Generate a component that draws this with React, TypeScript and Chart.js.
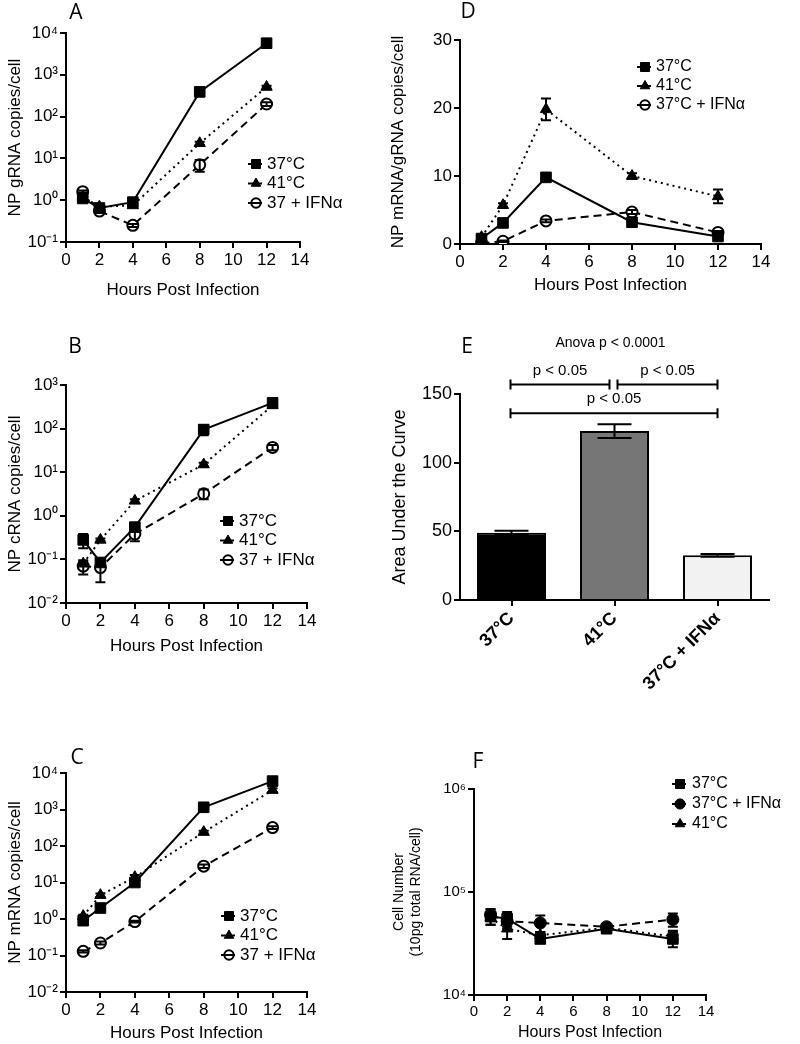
import React, { useEffect, useRef } from "react";
import { Chart, registerables } from "chart.js";
import { drawPoint } from "chart.js/helpers";

Chart.register(...registerables);

const FONT = "'Liberation Sans', Arial, Helvetica, sans-serif";
const LETTER_FONT = "'Open Sans', 'Liberation Sans', sans-serif";

// ---------- shared ----------
const HOURS = [1, 2, 4, 8, 12];
const X_TICKS = [0, 2, 4, 6, 8, 10, 12, 14];
const X_TITLE = "Hours Post Infection";
const LABELS_ABC = ["37°C", "41°C", "37 + IFNα"];
const LABELS_D = ["37°C", "41°C", "37°C + IFNα"];
const LABELS_F = ["37°C", "37°C + IFNα", "41°C"];

// ---------- Panel A: NP gRNA ----------
const A_37 = [1.1, 0.65, 0.9, 390, 5700];
const A_41 = [1.2, 0.7, 0.75, 23, 510];
const A_IFN = [1.6, 0.55, 0.25, 7, 200];
const A_ERR_37 = [0.1, 0.05, 0.1, 30, 400];
const A_ERR_41 = [0.1, 0.05, 0.05, 2, 40];
const A_ERR_IFN = [0.1, 0.05, 0.02, 2.2, 20];
const A_TICKS = [0.1, 1, 10, 100, 1000, 10000];

// ---------- Panel B: NP cRNA ----------
const B_37 = [0.28, 0.085, 0.55, 95, 390];
const B_41 = [0.08, 0.28, 2.2, 15, 340];
const B_IFN = [0.07, 0.065, 0.38, 3.2, 37];
const B_ERR_37 = [0.1, 0.015, 0.1, 25, 70];
const B_ERR_41 = [0.01, 0.02, 0.2, 1.5, 40];
const B_ERR_IFN = [0.025, 0.035, 0.12, 0.8, 5];
const B_TICKS = [0.01, 0.1, 1, 10, 100, 1000];

// ---------- Panel C: NP mRNA ----------
const C_37 = [0.9, 2, 10, 1150, 6000];
const C_41 = [1.2, 4.5, 14, 240, 3400];
const C_IFN = [0.13, 0.22, 0.85, 28, 320];
const C_ERR_37 = [0.1, 0.3, 1.5, 100, 800];
const C_ERR_41 = [0.1, 0.5, 2, 20, 400];
const C_ERR_IFN = [0.01, 0.02, 0.05, 3, 30];
const C_TICKS = [0.01, 0.1, 1, 10, 100, 1000, 10000];

// ---------- Panel D: mRNA/gRNA ----------
const D_37 = [0.8, 3.1, 9.8, 3.2, 1.1];
const D_41 = [1.0, 5.7, 19.8, 10, 7];
const D_IFN = [0.1, 0.4, 3.4, 4.7, 1.7];
const D_ERR_37 = [0.2, 0.3, 0.3, 0.4, 0.2];
const D_ERR_41 = [0.2, 0.3, 1.6, 0.4, 1.0];
const D_ERR_IFN = [0.05, 0.1, 0.2, 0.3, 0.2];
const D_TICKS = [0, 10, 20, 30];

// ---------- Panel E: AUC ----------
const E_LABELS = ["37°C", "41°C", "37°C + IFNα"];
const E_AUC = [49, 123, 32.5];
const E_ERR = [1.5, 5, 1];
const E_COLORS = ["#000000", "#767676", "#f2f2f2"];
const E_TICKS = [0, 50, 100, 150];
const E_ANOVA = { text: "Anova p < 0.0001", cat: 1, y: 187 };
const E_COMPARISONS = [
  { from: 0, to: 1, y: 157, text: "p < 0.05" },
  { from: 1, to: 2, y: 157, text: "p < 0.05" },
  { from: 0, to: 2, y: 136, text: "p < 0.05" },
];

// ---------- Panel F: cell number ----------
const F_37 = [58000, 55000, 35000, 44000, 35000];
const F_IFN = [60000, 52000, 50000, 46000, 54000];
const F_41 = [56000, 44000, 38000, 45000, 37000];
const F_ERR_37 = [10000, 9000, 3000, 4000, 6000];
const F_ERR_IFN = [8000, 8000, 9000, 3000, 8000];
const F_ERR_41 = [8000, 9000, 3000, 4000, 5000];
const F_TICKS = [10000, 100000, 1000000];

// ---------- styles ----------
const ST: Record<string, any> = {
  sq: { pointStyle: "rect", pointRadius: 7.5, pointBackgroundColor: "#000", pointBorderColor: "#000", pointBorderWidth: 1, borderDash: [] },
  tri: { pointStyle: "triangle", pointRadius: 6.5, pointBackgroundColor: "#000", pointBorderColor: "#000", pointBorderWidth: 1, borderDash: [2, 4] },
  open: { pointStyle: "circle", pointRadius: 5.5, pointBackgroundColor: "#fff", pointBorderColor: "#000", pointBorderWidth: 2, borderDash: [8, 5] },
  dot: { pointStyle: "circle", pointRadius: 6, pointBackgroundColor: "#000", pointBorderColor: "#000", pointBorderWidth: 1, borderDash: [8, 5] },
};

const SUP: Record<string, string> = {
  "-": "⁻", "0": "⁰", "1": "¹", "2": "²", "3": "³", "4": "⁴", "5": "⁵", "6": "⁶", "7": "⁷", "8": "⁸", "9": "⁹",
};
const pow10Label = (v: number) =>
  "10" + String(Math.round(Math.log10(v))).split("").map((c) => SUP[c] || c).join("");

// ---------- plugins ----------
const errorBarPlugin = {
  id: "errorBars",
  afterDatasetsDraw(chart: any, _args: any, opts: any) {
    const ctx = chart.ctx;
    const ys = chart.scales.y;
    const cap = (opts && opts.cap) || 10;
    chart.data.datasets.forEach((ds: any, di: number) => {
      const errs = ds.errors;
      if (!errs) return;
      const meta = chart.getDatasetMeta(di);
      meta.data.forEach((el: any, i: number) => {
        const e = errs[i];
        if (!e) return;
        const raw = ds.data[i];
        const v = typeof raw === "number" ? raw : raw.y;
        const lo = Math.max(v - e, ys.min);
        const hi = v + e;
        const yLo = ys.getPixelForValue(lo);
        const yHi = ys.getPixelForValue(hi);
        const x = el.x;
        ctx.save();
        ctx.strokeStyle = "#000";
        ctx.lineWidth = 2;
        ctx.setLineDash([]);
        ctx.beginPath();
        ctx.moveTo(x, yLo);
        ctx.lineTo(x, yHi);
        ctx.moveTo(x - cap / 2, yHi);
        ctx.lineTo(x + cap / 2, yHi);
        ctx.moveTo(x - cap / 2, yLo);
        ctx.lineTo(x + cap / 2, yLo);
        ctx.stroke();
        ctx.restore();
      });
    });
  },
};

const legendPlugin = {
  id: "seriesLegend",
  afterDraw(chart: any, _args: any, opts: any) {
    if (!opts || opts.x === undefined) return;
    const ctx = chart.ctx;
    chart.data.datasets.forEach((ds: any, i: number) => {
      const x = opts.x;
      const y = opts.y + i * opts.dy;
      ctx.save();
      ctx.setLineDash([]);
      ctx.fillStyle = ds.pointBackgroundColor;
      ctx.strokeStyle = "#000";
      ctx.lineWidth = ds.pointBorderWidth;
      drawPoint(ctx, { pointStyle: ds.pointStyle, radius: ds.pointRadius * 0.85, rotation: 0, borderWidth: ds.pointBorderWidth }, x, y);
      ctx.lineWidth = 2;
      ctx.beginPath();
      ctx.moveTo(x - 8, y);
      ctx.lineTo(x + 6, y);
      ctx.stroke();
      ctx.fillStyle = "#000";
      ctx.font = `${opts.size}px ${FONT}`;
      ctx.textBaseline = "middle";
      ctx.textAlign = "left";
      ctx.fillText(ds.label, x + opts.dx, y);
      ctx.restore();
    });
  },
};

const sigPlugin = {
  id: "sigMarks",
  afterDraw(chart: any, _args: any, opts: any) {
    if (!opts || !opts.comps) return;
    const ctx = chart.ctx;
    const xs = chart.scales.x;
    const ys = chart.scales.y;
    ctx.save();
    ctx.fillStyle = "#000";
    ctx.strokeStyle = "#000";
    ctx.lineWidth = 2;
    ctx.textAlign = "center";
    ctx.textBaseline = "middle";
    ctx.font = `14px ${FONT}`;
    ctx.fillText(opts.anova.text, xs.getPixelForValue(opts.anova.cat) - 4, ys.getPixelForValue(opts.anova.y));
    ctx.font = `15px ${FONT}`;
    opts.comps.forEach((c: any) => {
      const sharedLeft = opts.comps.some((o: any) => o !== c && o.to === c.from && o.y === c.y);
      const sharedRight = opts.comps.some((o: any) => o !== c && o.from === c.to && o.y === c.y);
      const x1 = xs.getPixelForValue(c.from) + (sharedLeft ? 3 : -1);
      const x2 = xs.getPixelForValue(c.to) + (sharedRight ? -5 : 0);
      const y = ys.getPixelForValue(c.y);
      ctx.beginPath();
      ctx.moveTo(x1, y);
      ctx.lineTo(x2, y);
      ctx.moveTo(x1, y - 5);
      ctx.lineTo(x1, y + 5);
      ctx.moveTo(x2, y - 5);
      ctx.lineTo(x2, y + 5);
      ctx.stroke();
      ctx.fillText(c.text, (x1 + x2) / 2, y - 14);
    });
    ctx.restore();
  },
};

// ---------- layout helpers ----------
type Pan = { x0: number; y0: number; w: number; h: number; left: number; top: number; right: number; bottom: number };

const axisCommon = () => ({
  grid: { display: true, drawOnChartArea: false, drawTicks: true, tickLength: 6, color: "#000", lineWidth: 2 },
  border: { display: true, color: "#000", width: 2 },
});

type LineSpec = {
  pan: Pan;
  log: boolean;
  yTicks: number[];
  yTitle: string | string[];
  yTitleX: number;
  xTitleY: number;
  tickSize: number;
  titleSize: number;
  xTitleSize: number;
  series: { label: string; data: number[]; err: number[]; style: string }[];
  legend: { x: number; y: number; dy: number; dx: number; size: number };
};

function lineConfig(s: LineSpec): any {
  const p = s.pan;
  const tickFont = { family: FONT, size: s.tickSize };
  const titleFont = { family: FONT, size: s.titleSize };
  const xTitleFont = { family: FONT, size: s.xTitleSize };
  const lh = s.titleSize * 1.2;
  const xlh = s.xTitleSize * 1.2;
  const yTitlePad = s.yTitleX - p.x0 - lh / 2;
  const xTitlePad = p.y0 + p.h - s.xTitleY - xlh / 2;
  const yMin = s.yTicks[0];
  const yMax = s.yTicks[s.yTicks.length - 1];
  return {
    type: "line",
    data: {
      datasets: s.series.map((se) => ({
        label: se.label,
        data: HOURS.map((h, i) => ({ x: h, y: se.data[i] })),
        errors: se.err,
        borderColor: "#000",
        borderWidth: 2,
        fill: false,
        tension: 0,
        ...ST[se.style],
      })),
    },
    options: {
      responsive: false,
      animation: false,
      events: [],
      layout: { padding: { top: p.top - p.y0, right: p.x0 + p.w - p.right, left: 0, bottom: 0 } },
      plugins: {
        legend: { display: false },
        tooltip: { enabled: false },
        errorBars: { cap: 10 },
        seriesLegend: { ...s.legend, x: s.legend.x - p.x0, y: s.legend.y - p.y0 },
      },
      scales: {
        x: {
          type: "linear",
          min: 0,
          max: 14,
          ...axisCommon(),
          afterBuildTicks: (sc: any) => {
            sc.ticks = X_TICKS.map((v) => ({ value: v }));
          },
          afterFit: (sc: any) => {
            sc.height = p.y0 + p.h - p.bottom;
          },
          ticks: { font: tickFont, color: "#000", padding: 2, maxRotation: 0, autoSkip: false },
          title: { display: true, text: X_TITLE, font: xTitleFont, color: "#000", padding: { top: 0, bottom: xTitlePad } },
        },
        y: {
          type: s.log ? "logarithmic" : "linear",
          min: yMin,
          max: yMax,
          ...axisCommon(),
          afterBuildTicks: (sc: any) => {
            sc.ticks = s.yTicks.map((v) => ({ value: v }));
          },
          afterFit: (sc: any) => {
            sc.width = p.left - p.x0;
          },
          ticks: {
            font: tickFont,
            color: "#000",
            padding: 2,
            autoSkip: false,
            callback: (v: any) => (s.log ? pow10Label(Number(v)) : String(v)),
          },
          title: { display: true, text: s.yTitle, font: titleFont, color: "#000", padding: { top: yTitlePad, bottom: 0 } },
        },
      },
    },
    plugins: [errorBarPlugin, legendPlugin],
  };
}

function barConfig(p: Pan): any {
  const tickFont = { family: FONT, size: 18 };
  const lh = 18 * 1.2;
  return {
    type: "bar",
    data: {
      labels: E_LABELS,
      datasets: [
        {
          data: E_AUC,
          errors: E_ERR,
          backgroundColor: E_COLORS,
          borderColor: "#000",
          borderWidth: 2,
          barPercentage: 0.67,
          categoryPercentage: 1,
        },
      ],
    },
    options: {
      responsive: false,
      animation: false,
      events: [],
      layout: { padding: { top: p.top - p.y0, right: p.x0 + p.w - p.right, left: 0, bottom: 0 } },
      plugins: {
        legend: { display: false },
        tooltip: { enabled: false },
        errorBars: { cap: 34 },
        sigMarks: { anova: E_ANOVA, comps: E_COMPARISONS },
      },
      scales: {
        x: {
          type: "category",
          offset: true,
          ...axisCommon(),
          grid: { display: true, offset: false, drawOnChartArea: false, drawTicks: true, tickLength: 6, color: "#000", lineWidth: 2 },
          afterFit: (sc: any) => {
            sc.height = p.y0 + p.h - p.bottom;
          },
          ticks: { font: { ...tickFont, weight: "bold" }, color: "#000", padding: 2, minRotation: 45, maxRotation: 45, autoSkip: false },
        },
        y: {
          type: "linear",
          min: E_TICKS[0],
          max: E_TICKS[E_TICKS.length - 1],
          ...axisCommon(),
          afterBuildTicks: (sc: any) => {
            sc.ticks = E_TICKS.map((v) => ({ value: v }));
          },
          afterFit: (sc: any) => {
            sc.width = p.left - p.x0;
          },
          ticks: { font: tickFont, color: "#000", padding: 2, autoSkip: false },
          title: {
            display: true,
            text: "Area Under the Curve",
            font: tickFont,
            color: "#000",
            padding: { top: 400 - p.x0 - lh / 2, bottom: 0 },
          },
        },
      },
    },
    plugins: [errorBarPlugin, sigPlugin],
  };
}

// ---------- panel specs ----------
const PAN_A: Pan = { x0: 0, y0: 0, w: 375, h: 305, left: 66, top: 33, right: 300, bottom: 242 };
const PAN_B: Pan = { x0: 0, y0: 355, w: 375, h: 305, left: 66, top: 385, right: 307, bottom: 603 };
const PAN_C: Pan = { x0: 0, y0: 745, w: 375, h: 299, left: 66, top: 773, right: 307, bottom: 992 };
const PAN_D: Pan = { x0: 380, y0: 15, w: 420, h: 295, left: 460, top: 40, right: 761, bottom: 244 };
const PAN_E: Pan = { x0: 380, y0: 330, w: 420, h: 385, left: 460, top: 394, right: 769, bottom: 600 };
const PAN_F: Pan = { x0: 380, y0: 770, w: 420, h: 274, left: 474, top: 789, right: 706, bottom: 995 };

const SPEC_A: LineSpec = {
  pan: PAN_A, log: true, yTicks: A_TICKS, yTitle: "NP gRNA copies/cell", yTitleX: 15, xTitleY: 290, tickSize: 17, titleSize: 17, xTitleSize: 17,
  series: [
    { label: LABELS_ABC[0], data: A_37, err: A_ERR_37, style: "sq" },
    { label: LABELS_ABC[1], data: A_41, err: A_ERR_41, style: "tri" },
    { label: LABELS_ABC[2], data: A_IFN, err: A_ERR_IFN, style: "open" },
  ],
  legend: { x: 256, y: 164, dy: 19.5, dx: 11, size: 17 },
};
const SPEC_B: LineSpec = {
  pan: PAN_B, log: true, yTicks: B_TICKS, yTitle: "NP cRNA copies/cell", yTitleX: 15, xTitleY: 646, tickSize: 17, titleSize: 17, xTitleSize: 17,
  series: [
    { label: LABELS_ABC[0], data: B_37, err: B_ERR_37, style: "sq" },
    { label: LABELS_ABC[1], data: B_41, err: B_ERR_41, style: "tri" },
    { label: LABELS_ABC[2], data: B_IFN, err: B_ERR_IFN, style: "open" },
  ],
  legend: { x: 228, y: 521, dy: 19.5, dx: 11, size: 17 },
};
const SPEC_C: LineSpec = {
  pan: PAN_C, log: true, yTicks: C_TICKS, yTitle: "NP mRNA copies/cell", yTitleX: 15, xTitleY: 1033, tickSize: 17, titleSize: 17, xTitleSize: 17,
  series: [
    { label: LABELS_ABC[0], data: C_37, err: C_ERR_37, style: "sq" },
    { label: LABELS_ABC[1], data: C_41, err: C_ERR_41, style: "tri" },
    { label: LABELS_ABC[2], data: C_IFN, err: C_ERR_IFN, style: "open" },
  ],
  legend: { x: 229, y: 916, dy: 19.5, dx: 11, size: 17 },
};
const SPEC_D: LineSpec = {
  pan: PAN_D, log: false, yTicks: D_TICKS, yTitle: "NP mRNA/gRNA copies/cell", yTitleX: 398, xTitleY: 285, tickSize: 17, titleSize: 17, xTitleSize: 17,
  series: [
    { label: LABELS_D[0], data: D_37, err: D_ERR_37, style: "sq" },
    { label: LABELS_D[1], data: D_41, err: D_ERR_41, style: "tri" },
    { label: LABELS_D[2], data: D_IFN, err: D_ERR_IFN, style: "open" },
  ],
  legend: { x: 645, y: 67, dy: 19, dx: 11, size: 16 },
};
const SPEC_F: LineSpec = {
  pan: PAN_F, log: true, yTicks: F_TICKS, yTitle: ["Cell Number", "(10pg total RNA/cell)"], yTitleX: 399, xTitleY: 1033, tickSize: 15, titleSize: 14, xTitleSize: 16,
  series: [
    { label: LABELS_F[0], data: F_37, err: F_ERR_37, style: "sq" },
    { label: LABELS_F[1], data: F_IFN, err: F_ERR_IFN, style: "dot" },
    { label: LABELS_F[2], data: F_41, err: F_ERR_41, style: "tri" },
  ],
  legend: { x: 680, y: 784, dy: 20, dx: 12, size: 16 },
};

const LETTERS = [
  { t: "A", x: 76, y: 11 },
  { t: "B", x: 75, y: 345 },
  { t: "C", x: 77, y: 756 },
  { t: "D", x: 468, y: 10 },
  { t: "E", x: 467, y: 345 },
  { t: "F", x: 478, y: 760 },
];

const PANELS: { pan: Pan; make: () => any }[] = [
  { pan: PAN_A, make: () => lineConfig(SPEC_A) },
  { pan: PAN_B, make: () => lineConfig(SPEC_B) },
  { pan: PAN_C, make: () => lineConfig(SPEC_C) },
  { pan: PAN_D, make: () => lineConfig(SPEC_D) },
  { pan: PAN_E, make: () => barConfig(PAN_E) },
  { pan: PAN_F, make: () => lineConfig(SPEC_F) },
];

export default function App() {
  const refs = useRef<(HTMLCanvasElement | null)[]>([]);
  useEffect(() => {
    const charts = PANELS.map((pd, i) => new Chart(refs.current[i] as HTMLCanvasElement, pd.make()));
    return () => charts.forEach((c) => c.destroy());
  }, []);
  return (
    <div style={{ position: "absolute", left: 0, top: 0, width: 800, height: 1044, background: "#fff", overflow: "hidden" }}>
      {PANELS.map((pd, i) => (
        <canvas
          key={i}
          ref={(el) => {
            refs.current[i] = el;
          }}
          width={pd.pan.w}
          height={pd.pan.h}
          style={{ position: "absolute", left: pd.pan.x0, top: pd.pan.y0, width: pd.pan.w, height: pd.pan.h }}
        />
      ))}
      {LETTERS.map((l) => (
        <div
          key={l.t}
          style={{
            position: "absolute",
            left: l.x,
            top: l.y,
            transform: "translate(-50%, -50%)",
            fontFamily: LETTER_FONT,
            fontSize: 21,
            lineHeight: "21px",
            color: "#000",
          }}
        >
          {l.t}
        </div>
      ))}
    </div>
  );
}
